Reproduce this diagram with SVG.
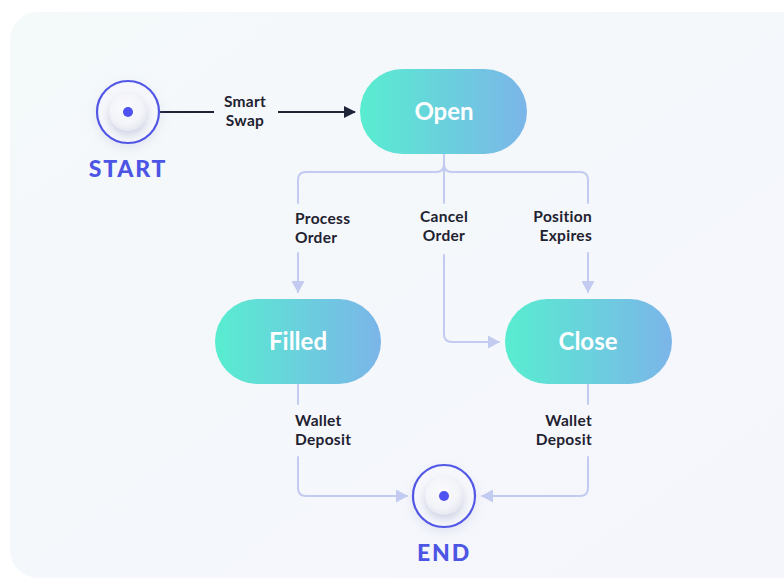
<svg xmlns="http://www.w3.org/2000/svg" width="784" height="586" viewBox="0 0 784 586">
  <defs>
    <linearGradient id="pillGrad" x1="0" y1="0" x2="1" y2="0">
      <stop offset="0" stop-color="#58edd0"/>
      <stop offset="1" stop-color="#7bb5e9"/>
    </linearGradient>
    <linearGradient id="cardGrad" x1="0" y1="0" x2="1" y2="1">
      <stop offset="0" stop-color="#f4f9fa"/>
      <stop offset="1" stop-color="#f5f6fc"/>
    </linearGradient>
    <radialGradient id="knobGrad" cx="0.45" cy="0.4" r="0.6">
      <stop offset="0" stop-color="#fbfbfe"/>
      <stop offset="0.7" stop-color="#f3f4f9"/>
      <stop offset="1" stop-color="#e6e8f1"/>
    </radialGradient>
    <filter id="knobShadow" x="-60%" y="-60%" width="220%" height="220%">
      <feDropShadow dx="0" dy="4" stdDeviation="4" flood-color="#8088b0" flood-opacity="0.35"/>
    </filter>
    <filter id="ringGlow" x="-50%" y="-50%" width="200%" height="200%">
      <feDropShadow dx="0" dy="4" stdDeviation="6" flood-color="#9aa0c8" flood-opacity="0.25"/>
    </filter>
    <marker id="arrowDark" viewBox="0 0 12 12" refX="11" refY="6" markerWidth="12" markerHeight="12" markerUnits="userSpaceOnUse" orient="auto">
      <path d="M0,0 L12,6 L0,12 z" fill="#1f2338"/>
    </marker>
    <marker id="arrowLight" viewBox="0 0 12 13" refX="11" refY="6.5" markerWidth="12" markerHeight="13" markerUnits="userSpaceOnUse" orient="auto">
      <path d="M0,0 L12,6.5 L0,13 z" fill="#c3cbf0"/>
    </marker>
  </defs>
  <style>
    .pill { fill: url(#pillGrad); }
    .nodeText { font-family: Lato, "Open Sans", sans-serif; font-weight: 700; font-size: 24px; fill: #ffffff; text-anchor: middle; }
    .termText { font-family: Lato, "Open Sans", sans-serif; font-weight: 900; font-size: 23px; fill: #4c55e4; text-anchor: middle; letter-spacing: 1.8px; }
    .label { font-family: Lato, "Open Sans", sans-serif; font-weight: 700; font-size: 15.5px; fill: #1f2230; letter-spacing: 0.3px; }
    .ring { fill: none; stroke: #5257e6; stroke-width: 2.2; }
    .knob { fill: url(#knobGrad); }
    .dot { fill: #4d52f0; }
    .conn { fill: none; stroke: #c3cbf0; stroke-width: 2; stroke-linecap: round; stroke-linejoin: round; }
    .connDark { fill: none; stroke: #1f2338; stroke-width: 2; }
  </style>

  <!-- page and card background -->
  <rect x="0" y="0" width="784" height="586" fill="#ffffff"/>
  <rect x="10" y="12" width="800" height="566" rx="28" fill="url(#cardGrad)"/>

  <!-- connectors -->
  <g id="connectors">
    <!-- start -> open -->
    <line class="connDark" x1="159" y1="112" x2="214" y2="112"/>
    <line class="connDark" x1="278" y1="112" x2="355" y2="112" marker-end="url(#arrowDark)"/>
    <!-- open split -->
    <line class="conn" x1="444" y1="154" x2="444" y2="203"/>
    <path class="conn" d="M444,164 Q444,172 436,172 H306 Q298,172 298,180 V203"/>
    <path class="conn" d="M444,164 Q444,172 452,172 H580 Q588,172 588,180 V203"/>
    <!-- process order -> filled -->
    <line class="conn" x1="298" y1="253" x2="298" y2="292" marker-end="url(#arrowLight)"/>
    <!-- cancel order -> close -->
    <path class="conn" d="M444,255 V334 Q444,342 452,342 H499" marker-end="url(#arrowLight)"/>
    <!-- position expires -> close -->
    <line class="conn" x1="588" y1="253" x2="588" y2="292" marker-end="url(#arrowLight)"/>
    <!-- filled -> end -->
    <line class="conn" x1="298" y1="384" x2="298" y2="404"/>
    <path class="conn" d="M298,457 V488 Q298,496 306,496 H407" marker-end="url(#arrowLight)"/>
    <!-- close -> end -->
    <line class="conn" x1="588" y1="384" x2="588" y2="404"/>
    <path class="conn" d="M588,457 V488 Q588,496 580,496 H482" marker-end="url(#arrowLight)"/>

    <!-- connector labels -->
    <text class="label" text-anchor="middle"><tspan x="245" y="107">Smart</tspan><tspan x="245" y="126">Swap</tspan></text>
    <text class="label" text-anchor="start"><tspan x="295" y="224">Process</tspan><tspan x="295" y="243">Order</tspan></text>
    <text class="label" text-anchor="middle"><tspan x="444" y="222">Cancel</tspan><tspan x="444" y="241">Order</tspan></text>
    <text class="label" text-anchor="end"><tspan x="592" y="222">Position</tspan><tspan x="592" y="241">Expires</tspan></text>
    <text class="label" text-anchor="start"><tspan x="295" y="426">Wallet</tspan><tspan x="295" y="445">Deposit</tspan></text>
    <text class="label" text-anchor="end"><tspan x="592" y="426">Wallet</tspan><tspan x="592" y="445">Deposit</tspan></text>
  </g>

  <!-- start terminal -->
  <g id="start">
    <circle cx="128" cy="112" r="31" fill="#f6f7fc" filter="url(#ringGlow)"/>
    <circle class="ring" cx="128" cy="112" r="31"/>
    <circle class="knob" cx="128" cy="112" r="19" filter="url(#knobShadow)"/>
    <circle class="dot" cx="128" cy="112" r="5"/>
    <text class="termText" x="128" y="177">START</text>
  </g>

  <!-- state nodes -->
  <g id="open">
    <rect class="pill" x="360" y="69" width="167" height="85" rx="42.5"/>
    <text class="nodeText" x="444" y="120">Open</text>
  </g>
  <g id="filled">
    <rect class="pill" x="215" y="299" width="166" height="85" rx="42.5"/>
    <text class="nodeText" x="298" y="350">Filled</text>
  </g>
  <g id="close">
    <rect class="pill" x="505" y="299" width="167" height="85" rx="42.5"/>
    <text class="nodeText" x="588" y="350">Close</text>
  </g>

  <!-- end terminal -->
  <g id="end">
    <circle cx="444" cy="496" r="31" fill="#f6f7fc" filter="url(#ringGlow)"/>
    <circle class="ring" cx="444" cy="496" r="31"/>
    <circle class="knob" cx="444" cy="496" r="19" filter="url(#knobShadow)"/>
    <circle class="dot" cx="444" cy="496" r="5"/>
    <text class="termText" x="444" y="561">END</text>
  </g>
</svg>
